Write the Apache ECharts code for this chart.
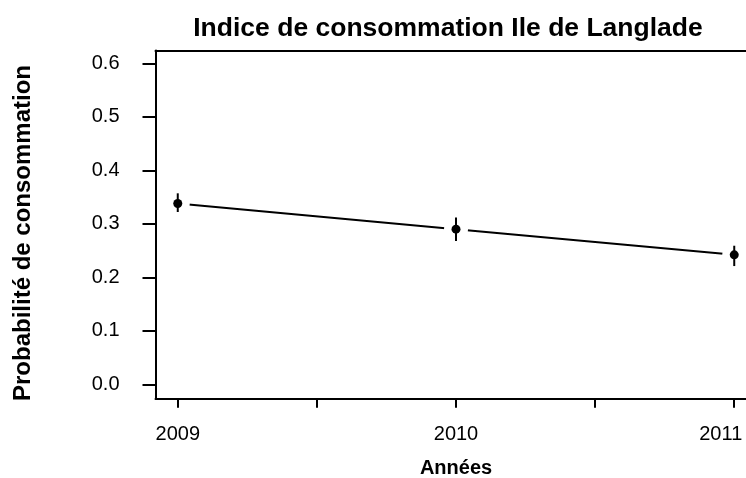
<!DOCTYPE html>
<html>
<head>
<meta charset="utf-8">
<script src="https://cdn.jsdelivr.net/npm/echarts@6/dist/echarts.min.js"></script>
<style>
  html, body { margin: 0; padding: 0; background: #fff; overflow: hidden; }
  #chart { width: 746px; height: 478px; overflow: hidden; }
</style>
</head>
<body>
<div id="chart"></div>
<script>
// Consumption index by year, with confidence interval
var years = [2009, 2010, 2011];
var prob = [0.338, 0.290, 0.242];
var lower = [0.322, 0.268, 0.221];
var upper = [0.357, 0.312, 0.259];

var xTicks = [2009, 2009.5, 2010, 2010.5, 2011];
var xLabels = [2009, 2010, 2011];
var yTicks = [0, 0.1, 0.2, 0.3, 0.4, 0.5, 0.6];

var FONT = '"Liberation Sans", Arial, Helvetica, sans-serif';
var X_MIN = 2008.92, X_MAX = 2011.08;

var points = years.map(function (y, i) { return [y, prob[i]]; });
var bars = years.map(function (y, i) { return [y, lower[i], upper[i]]; });

var chart = echarts.init(document.getElementById('chart'), null, { renderer: 'canvas', width: 746, height: 478 });

chart.setOption({
  animation: false,
  backgroundColor: '#fff',
  title: {
    text: 'Indice de consommation Ile de Langlade',
    left: 443,
    top: 10,
    textAlign: 'center',
    textStyle: { fontFamily: FONT, fontSize: 26.5, fontWeight: 'bold', color: '#000' }
  },
  graphic: [{
    type: 'text',
    x: 23,
    y: 233,
    rotation: Math.PI / 2,
    style: {
      text: 'Probabilité de consommation',
      fontFamily: FONT,
      fontSize: 24,
      fontWeight: 'bold',
      fill: '#000',
      align: 'center',
      verticalAlign: 'middle'
    }
  }],
  grid: {
    left: 155.5,
    top: 50.5,
    right: -10.5,
    bottom: 79.3,
    outerBoundsMode: 'none',
    containLabel: false,
    show: false
  },
  xAxis: [{
    type: 'value',
    position: 'bottom',
    min: X_MIN,
    max: X_MAX,
    name: 'Années',
    nameLocation: 'middle',
    nameGap: 60,
    nameTextStyle: { fontFamily: FONT, fontSize: 20, fontWeight: 'bold', color: '#000' },
    axisLine: { show: true, onZero: false, lineStyle: { color: '#000', width: 2 } },
    splitLine: { show: false },
    axisTick: {
      show: true,
      length: 9,
      customValues: xTicks,
      lineStyle: { color: '#000', width: 2 }
    },
    axisLabel: {
      customValues: xLabels,
      margin: 26,
      fontFamily: FONT,
      fontSize: 20,
      color: '#000',
      formatter: function (v) {
        // the last year label sits flush with the right edge of the canvas
        return v === 2011 ? '{end|' + v + '}' : String(v);
      },
      rich: {
        end: { fontFamily: FONT, fontSize: 20, color: '#000', width: 70, align: 'left' }
      }
    }
  }, {
    // top border of the plot frame
    type: 'value',
    position: 'top',
    min: X_MIN,
    max: X_MAX,
    axisLine: { show: true, onZero: false, lineStyle: { color: '#000', width: 2 } },
    axisTick: { show: false },
    axisLabel: { show: false },
    splitLine: { show: false }
  }],
  yAxis: {
    type: 'value',
    min: -0.027,
    max: 0.624,
    axisLine: { show: true, onZero: false, lineStyle: { color: '#000', width: 2 } },
    splitLine: { show: false },
    axisTick: {
      show: true,
      length: 13,
      customValues: yTicks,
      lineStyle: { color: '#000', width: 2 }
    },
    axisLabel: {
      customValues: yTicks,
      margin: 36,
      fontFamily: FONT,
      fontSize: 20,
      color: '#000',
      formatter: function (v) { return v.toFixed(1); }
    }
  },
  series: [
    {
      // connecting line
      type: 'line',
      data: points,
      symbol: 'none',
      lineStyle: { color: '#000', width: 2 },
      z: 1,
      silent: true
    },
    {
      // white gap around each point on the line
      type: 'scatter',
      data: points,
      symbol: 'circle',
      symbolSize: 24,
      itemStyle: { color: '#fff', opacity: 1 },
      z: 2,
      silent: true
    },
    {
      // vertical interval bars
      type: 'custom',
      data: bars,
      z: 3,
      silent: true,
      renderItem: function (params, api) {
        var x = api.value(0);
        var lo = api.coord([x, api.value(1)]);
        var hi = api.coord([x, api.value(2)]);
        return {
          type: 'line',
          shape: { x1: lo[0], y1: lo[1], x2: hi[0], y2: hi[1] },
          style: { stroke: '#000', lineWidth: 2 }
        };
      }
    },
    {
      // point estimates
      type: 'scatter',
      data: points,
      symbol: 'circle',
      symbolSize: 9,
      itemStyle: { color: '#000', opacity: 1 },
      z: 4,
      silent: true
    }
  ]
});
</script>
</body>
</html>
